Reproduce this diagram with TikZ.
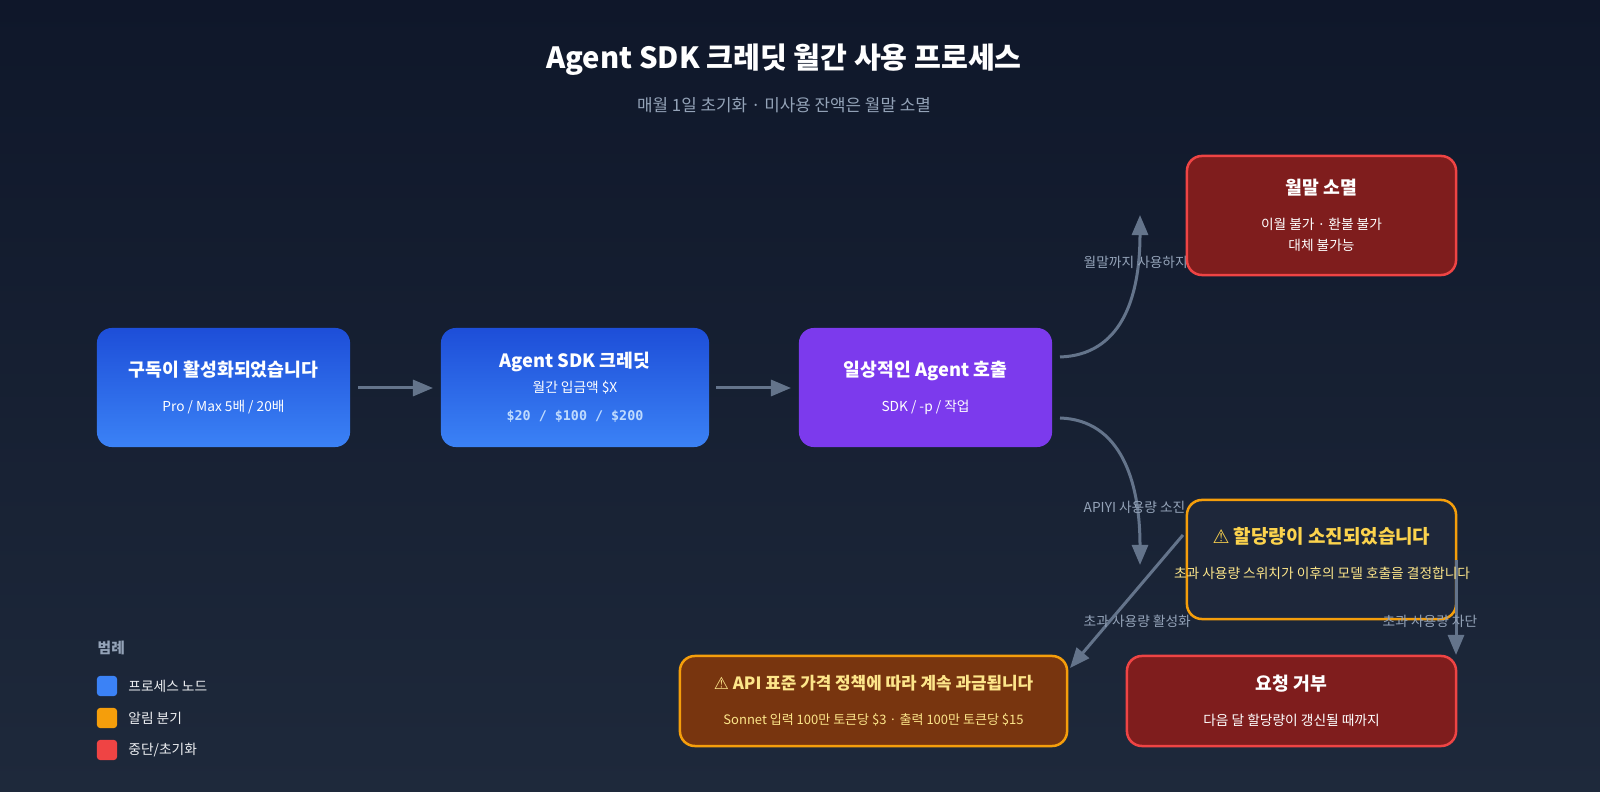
\documentclass[tikz,border=0pt]{standalone}
\usepackage{fontspec}
\setmainfont{Noto Sans CJK KR}
\setmonofont{DejaVu Sans Mono}
\newfontfamily\symfont{DejaVu Sans}
\usetikzlibrary{arrows.meta,positioning}
\definecolor{bgtop}{HTML}{0F172A}
\definecolor{bgbot}{HTML}{1E293B}
\definecolor{edgegray}{HTML}{64748B}
\definecolor{labgray}{HTML}{94A3B8}
\definecolor{blueA}{HTML}{1D4ED8}
\definecolor{blueB}{HTML}{3B82F6}
\definecolor{violet}{HTML}{7C3AED}
\definecolor{redfill}{HTML}{7F1D1D}
\definecolor{redline}{HTML}{EF4444}
\definecolor{amber}{HTML}{F59E0B}
\definecolor{amberfill}{HTML}{78350F}
\definecolor{ambertext}{HTML}{FDE68A}
\definecolor{yellowt}{HTML}{FCD34D}
\definecolor{warnfill}{HTML}{1E273A}
\definecolor{monoblue}{HTML}{BFDBFE}
\newcommand{\hd}[1]{{\fontsize{5.2}{6.5}\selectfont\bfseries #1}}
\newcommand{\sm}[1]{{\fontsize{3.9}{5.2}\selectfont #1}}
\begin{document}
\begin{tikzpicture}[x=0.01cm,y=-0.01cm,
  every node/.style={font=\fontsize{4}{5}\selectfont},
  proc/.style={rounded corners=0.15cm, align=center, text=white, inner sep=0pt,
    minimum height=1.19cm, top color=blueA, bottom color=blueB},
  stop/.style={rounded corners=0.15cm, align=center, text=white, inner sep=0pt,
    fill=redfill, draw=redline, line width=0.025cm},
  flow/.style={-{Triangle[length=0.2cm,width=0.16cm]}, draw=edgegray, line width=0.03cm},
  elab/.style={text=labgray, font=\fontsize{3.9}{5}\selectfont, inner sep=0pt},
  key/.style={rounded corners=0.03cm, minimum size=0.2cm, inner sep=0pt}]
\path[use as bounding box] (0,0) rectangle (1600,792);
\shade[top color=bgtop, bottom color=bgbot] (0,0) rectangle (1600,792);

% heading
\node (title) [text=white] at (784,60) {\fontsize{8.3}{10}\selectfont\bfseries Agent SDK 크레딧 월간 사용 프로세스};
\node (subtitle) [text=labgray] at (784,105) {\fontsize{4.8}{6}\selectfont 매월 1일 초기화 · 미사용 잔액은 월말 소멸};

% main row
\node (sub) [proc, minimum width=2.53cm] at (223.5,387.5) {\hd{구독이 활성화되었습니다}\\[5pt]\sm{Pro / Max 5배 / 20배}};
\node (credit) [proc, minimum width=2.68cm] at (575,387.5) {\hd{Agent SDK 크레딧}\\[2pt]\sm{월간 입금액 \$X}\\[3pt]{\color{monoblue}\ttfamily\fontsize{3.8}{5}\selectfont\bfseries \$20 / \$100 / \$200}};
\node (call) [proc, minimum width=2.53cm, top color=violet, bottom color=violet] at (925.5,387.5) {\hd{일상적인 Agent 호출}\\[5pt]\sm{SDK / -p / 작업}};

\draw[flow] (358,388) -- (433,388);
\draw[flow] (716,388) -- (791,388);

% branches
\coordinate (upend) at (1140,215);
\coordinate (downend) at (1140,565);
\draw[flow] (1060,357) .. controls (1120,355) and (1140,300) .. (upend);
\draw[flow] (1060,418) .. controls (1120,420) and (1140,480) .. (downend);
\node (lab1) [elab, anchor=west] at (1083,262) {월말까지 사용하지 않으면};
\node (lab2) [elab, anchor=west] at (1083,507) {APIYI 사용량 소진};

\node (expire) [stop, minimum width=2.69cm, minimum height=1.19cm] at (1321.5,215.5) {\hd{월말 소멸}\\[5pt]\sm{이월 불가 · 환불 불가}\\[1pt]\sm{대체 불가능}};

\node (quota) [rounded corners=0.15cm, draw=amber, fill=warnfill, line width=0.025cm,
  minimum width=2.69cm, minimum height=1.19cm] at (1321.5,559.5) {};
\coordinate (qleft) at (1183,535);
\coordinate (qright) at (1456,560);
\draw[flow] (qleft) -- (1070,668);
\draw[flow] (qright) -- (1456,655);
\node (quotahd) [text=yellowt] at (1321.5,536) {\fontsize{5.4}{6.5}\selectfont\bfseries{\symfont ⚠} 할당량이 소진되었습니다};
\node (quotasm) [text=ambertext] at (1322,573) {\sm{초과 사용량 스위치가 이후의 모델 호출을 결정합니다}};
\node (lab3) [elab, anchor=west] at (1083,621) {초과 사용량 활성화};
\node (lab4) [elab, anchor=west] at (1382,621) {초과 사용량 차단};

\node (billing) [rounded corners=0.15cm, align=center, text=ambertext, inner sep=0pt,
  fill=amberfill, draw=amber, line width=0.025cm, minimum width=3.87cm, minimum height=0.9cm]
  at (873.5,701) {{\fontsize{4.8}{6}\selectfont\bfseries{\symfont ⚠} API 표준 가격 정책에 따라 계속 과금됩니다}\\[5pt]{\fontsize{3.7}{5}\selectfont Sonnet 입력 100만 토큰당 \$3 · 출력 100만 토큰당 \$15}};
\node (reject) [stop, minimum width=3.29cm, minimum height=0.9cm] at (1291.5,701) {\hd{요청 거부}\\[5pt]\sm{다음 달 할당량이 갱신될 때까지}};

% legend
\node (legend) [text=labgray, anchor=west, inner sep=0pt] at (97,648) {\fontsize{4.2}{5}\selectfont\bfseries 범례};
\node (k1) [key, fill=blueB] at (107,686) {};
\node (k2) [key, fill=amber] at (107,718) {};
\node (k3) [key, fill=redline] at (107,750) {};
\node [right=0.1cm of k1, text=white!85!labgray, inner sep=0pt] {\sm{프로세스 노드}};
\node [right=0.1cm of k2, text=white!85!labgray, inner sep=0pt] {\sm{알림 분기}};
\node [right=0.1cm of k3, text=white!85!labgray, inner sep=0pt] {\sm{중단/초기화}};
\end{tikzpicture}
\end{document}
